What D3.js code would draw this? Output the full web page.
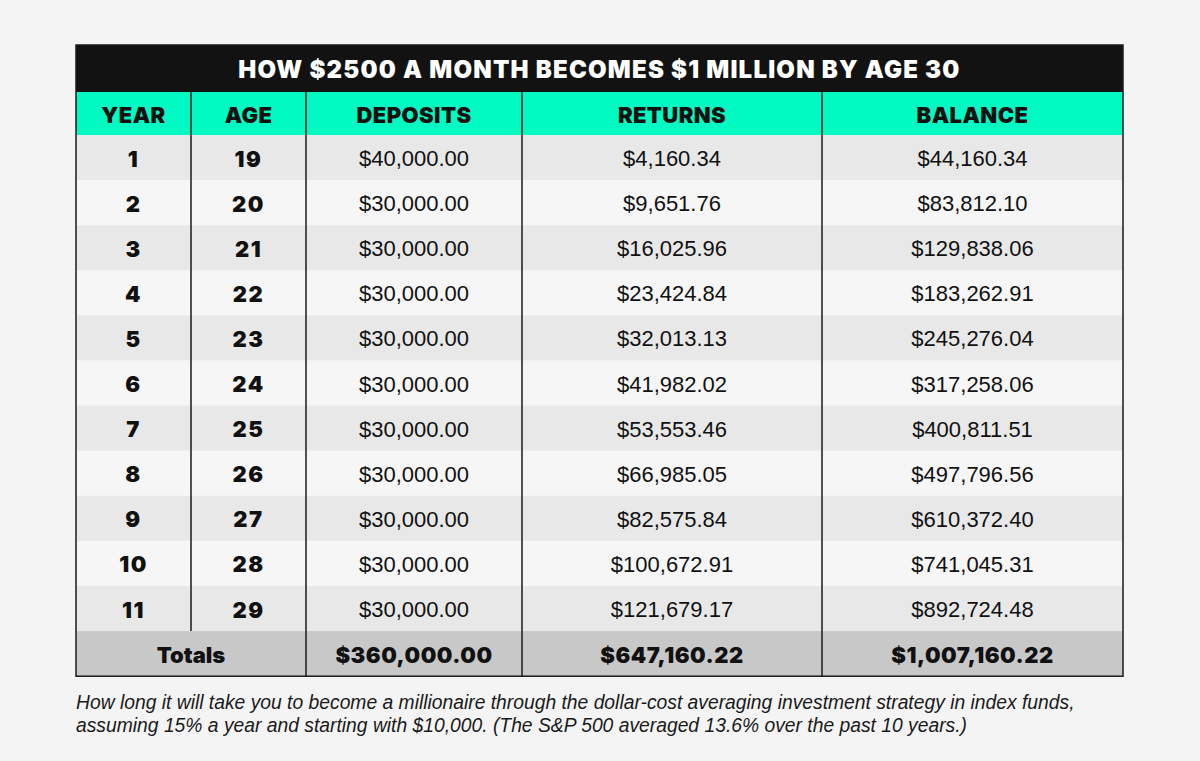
<!doctype html>
<html>
<head>
<meta charset="UTF-8">
<title>How $2500 a month becomes $1 million by age 30</title>
<script src="https://d3js.org/d3.v7.min.js"></script>
<style>
  body { margin: 0; background: #f4f4f4; }
  svg { display: block; }
</style>
</head>
<body>
<script>
// table data
var title = "HOW $2500 A MONTH BECOMES $1 MILLION BY AGE 30";
var headers = ["YEAR", "AGE", "DEPOSITS", "RETURNS", "BALANCE"];
var years = [1, 2, 3, 4, 5, 6, 7, 8, 9, 10, 11];
var ages = [19, 20, 21, 22, 23, 24, 25, 26, 27, 28, 29];
var deposits = [40000, 30000, 30000, 30000, 30000, 30000, 30000, 30000, 30000, 30000, 30000];
var returns = [4160.34, 9651.76, 16025.96, 23424.84, 32013.13, 41982.02, 53553.46, 66985.05, 82575.84, 100672.91, 121679.17];
var balance = [44160.34, 83812.10, 129838.06, 183262.91, 245276.04, 317258.06, 400811.51, 497796.56, 610372.40, 741045.31, 892724.48];
var totalsLabel = "Totals";
var totals = [360000.00, 647160.22, 1007160.22];
var caption = [
  "How long it will take you to become a millionaire through the dollar-cost averaging investment strategy in index funds,",
  "assuming 15% a year and starting with $10,000. (The S&P 500 averaged 13.6% over the past 10 years.)"
];

var w = 1200, h = 761;
var left = 76, right = 1123;
var top0 = 45, titleH = 47, headH = 43, rowH = 45.1;
var colEdges = [76, 191, 306, 522, 822, 1123];
var heavy = "Inter, 'Liberation Sans', sans-serif";
var plain = "'Liberation Sans', Arial, sans-serif";
var money = d3.format("$,.2f");

var svg = d3.select("body").append("svg").attr("width", w).attr("height", h);

// row scale: 11 data rows + totals
var rowIds = years.map(function(d, i){ return i; }).concat(["tot"]);
var y = d3.scaleBand().domain(rowIds)
  .range([top0 + titleH + headH, top0 + titleH + headH + rowH * rowIds.length]);
var bottom = y.range()[1];

// title band
svg.append("rect").attr("x", left).attr("y", top0).attr("width", right - left).attr("height", titleH)
  .attr("fill", "#121212");
svg.append("text").attr("x", (left + right) / 2).attr("y", top0 + titleH / 2 + 1)
  .attr("text-anchor", "middle").attr("dominant-baseline", "central")
  .attr("fill", "#fff").style("font-family", heavy).style("font-weight", 900)
  .style("font-size", "24px").style("letter-spacing", "1.2px").text(title);

// header band
var headTop = top0 + titleH;
svg.append("rect").attr("x", left).attr("y", headTop).attr("width", right - left).attr("height", headH)
  .attr("fill", "#00fac2");
svg.selectAll("text.head").data(headers).enter().append("text").attr("class", "head")
  .attr("x", function(d, i){ return (colEdges[i] + colEdges[i + 1]) / 2; })
  .attr("y", headTop + headH / 2 + 1)
  .attr("text-anchor", "middle").attr("dominant-baseline", "central")
  .attr("fill", "#111").style("font-family", heavy).style("font-weight", 900)
  .style("font-size", "22px").style("letter-spacing", "0.4px").text(function(d){ return d; });

// body rows
var rows = years.map(function(d, i){
  return { id: i, cells: [years[i], ages[i], money(deposits[i]), money(returns[i]), money(balance[i])] };
});

svg.selectAll("rect.row").data(rows).enter().append("rect").attr("class", "row")
  .attr("x", left).attr("y", function(d){ return y(d.id); })
  .attr("width", right - left).attr("height", y.bandwidth())
  .attr("fill", function(d){ return d.id % 2 === 0 ? "#e8e8e8" : "#f6f6f6"; });

var rowG = svg.selectAll("g.row").data(rows).enter().append("g").attr("class", "row")
  .attr("transform", function(d){ return "translate(0," + (y(d.id) + y.bandwidth() / 2 + 1) + ")"; });
rowG.selectAll("text").data(function(d){ return d.cells; }).enter().append("text")
  .attr("x", function(d, i){ return (colEdges[i] + colEdges[i + 1]) / 2; })
  .attr("text-anchor", "middle").attr("dominant-baseline", "central")
  .attr("fill", "#111")
  .style("font-family", function(d, i){ return i < 2 ? heavy : plain; })
  .style("font-weight", function(d, i){ return i < 2 ? 900 : 400; })
  .style("letter-spacing", function(d, i){ return i < 2 ? "1.5px" : "0px"; })
  .style("font-size", "22px")
  .text(function(d){ return d; });

// totals row
svg.append("rect").attr("x", left).attr("y", y("tot")).attr("width", right - left).attr("height", y.bandwidth())
  .attr("fill", "#c8c8c8");
var totCells = [{ x: (colEdges[0] + colEdges[2]) / 2, t: totalsLabel, ls: 0 }].concat(totals.map(function(v, i){
  return { x: (colEdges[i + 2] + colEdges[i + 3]) / 2, t: money(v), ls: 0.5 };
}));
svg.selectAll("text.tot").data(totCells).enter().append("text").attr("class", "tot")
  .attr("x", function(d){ return d.x; })
  .attr("y", y("tot") + y.bandwidth() / 2 + 1)
  .attr("text-anchor", "middle").attr("dominant-baseline", "central")
  .attr("fill", "#111").style("font-family", heavy).style("font-weight", 900)
  .style("letter-spacing", function(d){ return d.ls + "px"; })
  .style("font-size", "22px").text(function(d){ return d.t; });

// dividers
var lines = [
  [colEdges[1], headTop, y("tot")],
  [colEdges[2], headTop, bottom],
  [colEdges[3], headTop, bottom],
  [colEdges[4], headTop, bottom]
];
svg.selectAll("line.div").data(lines).enter().append("line").attr("class", "div")
  .attr("x1", function(d){ return d[0]; }).attr("x2", function(d){ return d[0]; })
  .attr("y1", function(d){ return d[1]; }).attr("y2", function(d){ return d[2]; })
  .attr("stroke", "#1a1a1a").attr("stroke-width", 1.5);

// outer border
svg.append("rect").attr("x", left).attr("y", top0).attr("width", right - left).attr("height", bottom - top0)
  .attr("fill", "none").attr("stroke", "#1a1a1a").attr("stroke-width", 1.5);

// caption
svg.selectAll("text.cap").data(caption).enter().append("text").attr("class", "cap")
  .attr("x", left).attr("y", function(d, i){ return 709 + i * 23; })
  .attr("fill", "#1a1a1a").style("font-family", plain)
  .style("font-style", "italic").style("font-size", "19.3px")
  .text(function(d){ return d; });
</script>
</body>
</html>
